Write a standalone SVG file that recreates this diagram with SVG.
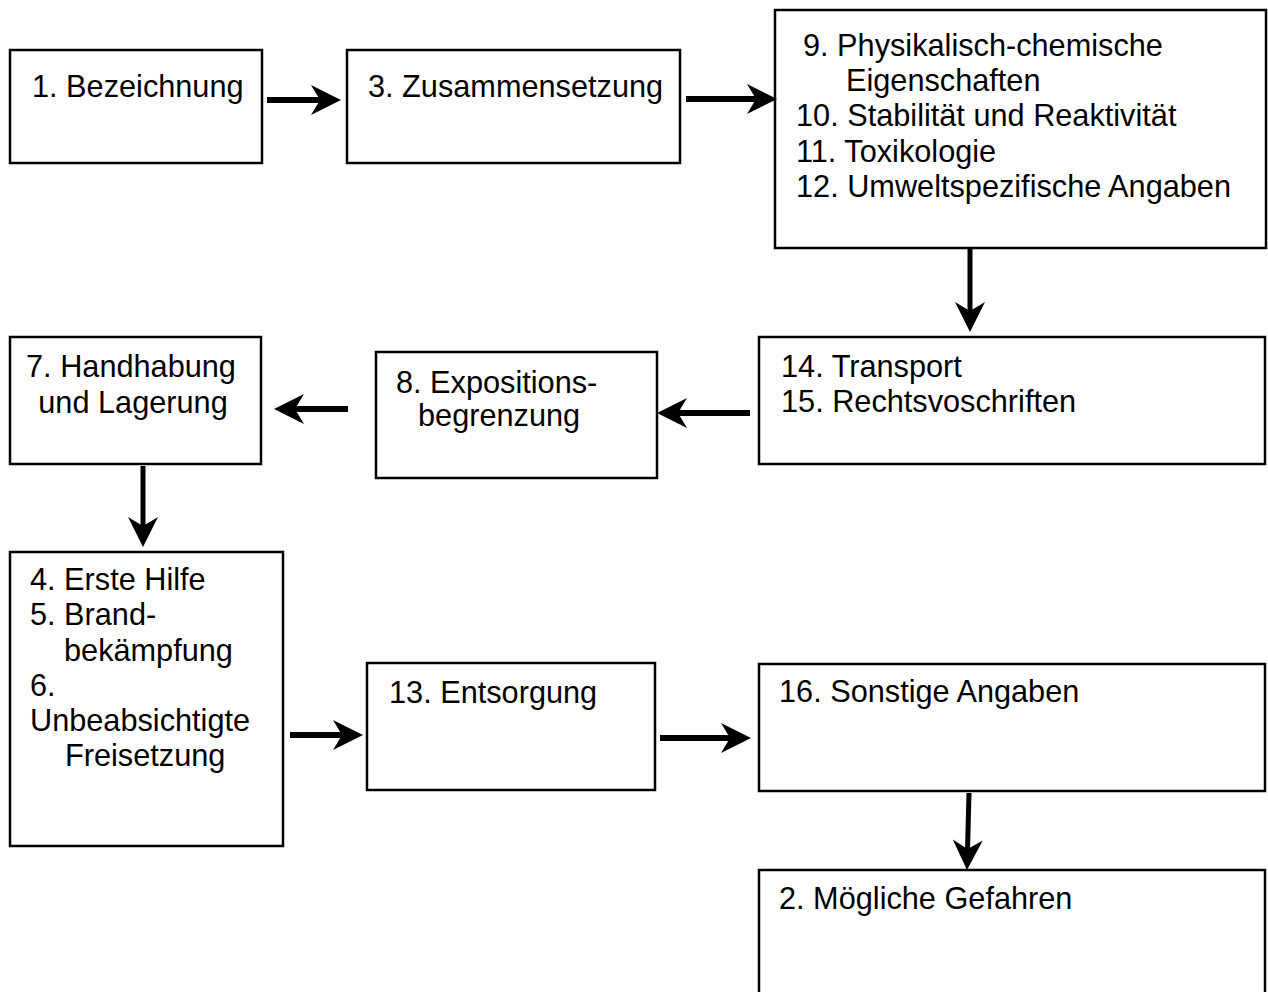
<svg xmlns="http://www.w3.org/2000/svg" width="1268" height="992" viewBox="0 0 1268 992">
<style>
.box{fill:#fff;stroke:#000;stroke-width:2.5}
.t{font-family:"Liberation Sans",Arial,sans-serif;font-size:30.7px;fill:#000}
.h{stroke:#000;stroke-width:6;fill:none}
.v{stroke:#000;stroke-width:5;fill:none}
</style>
<defs>
<marker id="ah" markerUnits="userSpaceOnUse" viewBox="-31 -16 32 32" markerWidth="32" markerHeight="32" refX="-20" refY="0" orient="auto">
<path d="M0,0 L-30,-15 L-21,0 L-30,15 Z" fill="#000"/>
</marker>
</defs>
<rect width="1268" height="992" fill="#fff"/>
<g id="n1"><rect class="box" x="10" y="50" width="252" height="113"/><text class="t" x="32" y="97">1. Bezeichnung</text></g>
<g id="n3"><rect class="box" x="347" y="50" width="333" height="113"/><text class="t" x="368" y="97">3. Zusammensetzung</text></g>
<g id="n9"><rect class="box" x="775" y="10" width="491" height="238"/>
<text class="t" x="803" y="56">9. Physikalisch-chemische</text>
<text class="t" x="846" y="91">Eigenschaften</text>
<text class="t" x="796" y="126">10. Stabilität und Reaktivität</text>
<text class="t" x="796" y="162">11. Toxikologie</text>
<text class="t" x="796" y="197">12. Umweltspezifische Angaben</text></g>
<g id="n14"><rect class="box" x="759" y="337" width="506" height="127"/>
<text class="t" x="781" y="377">14. Transport</text>
<text class="t" x="781" y="412">15. Rechtsvoschriften</text></g>
<g id="n8"><rect class="box" x="376" y="352" width="281" height="126"/>
<text class="t" x="396" y="393">8. Expositions-</text>
<text class="t" x="418" y="426">begrenzung</text></g>
<g id="n7"><rect class="box" x="10" y="337" width="251" height="127"/>
<text class="t" x="131" y="377" text-anchor="middle">7. Handhabung</text>
<text class="t" x="133" y="413" text-anchor="middle">und Lagerung</text></g>
<g id="n4"><rect class="box" x="10" y="552" width="273" height="294"/>
<text class="t" x="30" y="590">4. Erste Hilfe</text>
<text class="t" x="30" y="625">5. Brand-</text>
<text class="t" x="64" y="661">bekämpfung</text>
<text class="t" x="30" y="696">6.</text>
<text class="t" x="30" y="731">Unbeabsichtigte</text>
<text class="t" x="65" y="766">Freisetzung</text></g>
<g id="n13"><rect class="box" x="367" y="663" width="288" height="127"/>
<text class="t" x="389" y="703">13. Entsorgung</text></g>
<g id="n16"><rect class="box" x="759" y="664" width="506" height="127"/>
<text class="t" x="779" y="702">16. Sonstige Angaben</text></g>
<g id="n2"><rect class="box" x="759" y="870" width="506" height="140"/>
<text class="t" x="779" y="909">2. Mögliche Gefahren</text></g>
<g id="connectors">
<line class="h" x1="267" y1="100" x2="321" y2="100" marker-end="url(#ah)"/>
<line class="h" x1="686" y1="99" x2="757" y2="99" marker-end="url(#ah)"/>
<line class="v" x1="970" y1="248" x2="970" y2="312" marker-end="url(#ah)"/>
<line class="h" x1="750" y1="413" x2="677" y2="413" marker-end="url(#ah)"/>
<line class="h" x1="348" y1="409" x2="294" y2="409" marker-end="url(#ah)"/>
<line class="v" x1="143" y1="466" x2="143" y2="527" marker-end="url(#ah)"/>
<line class="h" x1="290" y1="735" x2="343" y2="735" marker-end="url(#ah)"/>
<line class="h" x1="660" y1="738" x2="731" y2="738" marker-end="url(#ah)"/>
<line class="v" x1="969" y1="793" x2="967.5" y2="850" marker-end="url(#ah)"/>
</g>
</svg>
